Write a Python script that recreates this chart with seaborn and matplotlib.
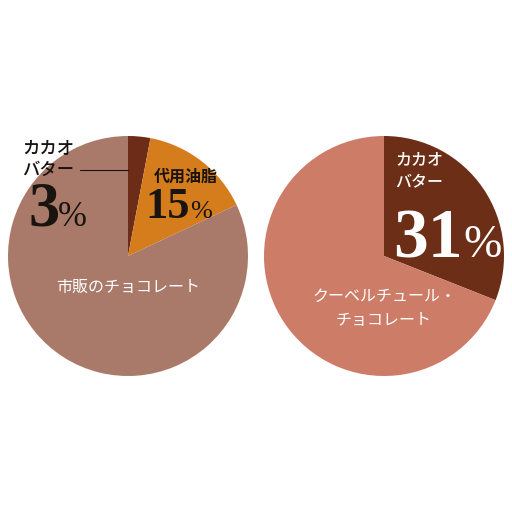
import matplotlib
matplotlib.use("Agg")
import matplotlib.pyplot as plt
import seaborn as sns

sns.set_theme(style="white")
plt.rcParams['font.family'] = ['Noto Sans CJK JP', 'DejaVu Sans']

# Data
left_categories = ["カカオバター", "代用油脂", "市販のチョコレート"]
left_values = [3, 15, 82]
right_categories = ["カカオバター", "クーベルチュール・チョコレート"]
right_values = [31, 69]

left_colors = ["#6d2c18", "#d57d1c", "#a97a6a"]
right_colors = ["#6d2e17", "#cd7d67"]

W = H = 512
fig = plt.figure(figsize=(5.12, 5.12), dpi=100)
fig.patch.set_facecolor("white")

R = 120

def pie_axes(cx, cy, values, colors):
    ax = fig.add_axes([(cx - R) / W, 1 - (cy + R) / H, 2 * R / W, 2 * R / H])
    ax.pie(values, colors=colors, startangle=90, counterclock=False,
           radius=1, wedgeprops=dict(linewidth=0))
    ax.set_xlim(-1, 1)
    ax.set_ylim(-1, 1)
    ax.set_aspect("equal")
    ax.axis("off")
    return ax

axL = pie_axes(128, 256, left_values, left_colors)
axR = pie_axes(384, 256, right_values, right_colors)

def ft(x, y, s, **kw):
    fig.text(x / W, 1 - y / H, s, **kw)

jp = ['Noto Sans CJK JP', 'DejaVu Sans']
serif = ['Liberation Serif', 'DejaVu Serif']
dark = "#1a1410"

# Left pie labels
ft(22, 148, "カカオ", ha="left", va="center", fontsize=12.5, color=dark, family=jp, weight="medium")
ft(22, 170, "バター", ha="left", va="center", fontsize=12.5, color=dark, family=jp, weight="medium")
fig.add_artist(plt.Line2D([80 / W, 128 / W], [1 - 170 / H, 1 - 170 / H], color=dark, linewidth=0.8))
ft(60, 226, str(left_values[0]), ha="right", va="baseline", fontsize=45, color=dark, family=serif, weight="bold")
ft(58, 226, "%", ha="left", va="baseline", fontsize=25, color=dark, family=serif)

ft(186, 177, "代用油脂", ha="center", va="center", fontsize=11.5, color=dark, family=jp, weight="bold")
ft(190, 218, str(left_values[1]), ha="right", va="baseline", fontsize=32, color=dark, family=serif, weight="bold")
ft(190, 218, "%", ha="left", va="baseline", fontsize=19, color=dark, family=serif)

ft(128, 287, "市販のチョコレート", ha="center", va="center", fontsize=11.5, color="white", family=jp)

# Right pie labels
ft(395, 160, "カカオ", ha="left", va="center", fontsize=11.5, color="white", family=jp, weight="medium")
ft(395, 183, "バター", ha="left", va="center", fontsize=11.5, color="white", family=jp, weight="medium")
ft(463, 257, str(right_values[0]), ha="right", va="baseline", fontsize=50, color="white", family=serif, weight="bold")
ft(463, 257, "%", ha="left", va="baseline", fontsize=33, color="white", family=serif)

ft(384, 296, "クーベルチュール・", ha="center", va="center", fontsize=11.5, color="white", family=jp)
ft(384, 320, "チョコレート", ha="center", va="center", fontsize=11.5, color="white", family=jp)

fig.savefig("out.png", dpi=100, facecolor="white")
